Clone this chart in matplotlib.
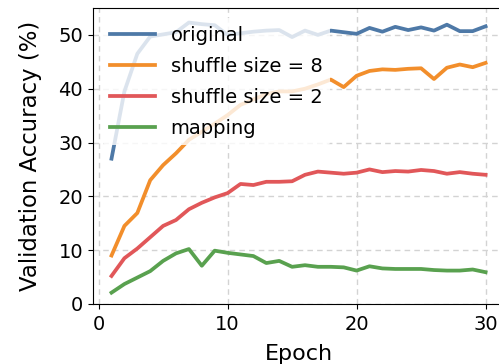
import matplotlib
matplotlib.use("Agg")
import matplotlib.pyplot as plt

epochs = list(range(1, 31))
original = [27.0, 39.5, 46.5, 49.7, 50.1, 50.5, 52.3, 52.0, 51.8, 50.0,
            50.3, 50.6, 50.8, 50.9, 49.6, 50.8, 50.0, 50.8, 50.5, 50.2,
            51.3, 50.6, 51.5, 50.9, 51.4, 50.8, 51.9, 50.7, 50.7, 51.6]
shuffle8 = [9.0, 14.5, 16.9, 23.0, 25.8, 28.0, 30.5, 32.0, 33.5, 35.1,
            37.0, 38.0, 39.0, 39.5, 39.5, 40.0, 40.8, 41.7, 40.3, 42.4,
            43.3, 43.6, 43.5, 43.7, 43.8, 41.8, 43.9, 44.5, 44.0, 44.8]
shuffle2 = [5.2, 8.5, 10.3, 12.4, 14.5, 15.6, 17.6, 18.8, 19.8, 20.6,
            22.3, 22.1, 22.7, 22.7, 22.8, 24.0, 24.6, 24.4, 24.2, 24.4,
            25.0, 24.5, 24.7, 24.6, 24.9, 24.7, 24.2, 24.5, 24.2, 24.0]
mapping = [2.1, 3.7, 4.9, 6.1, 8.0, 9.4, 10.2, 7.1, 9.9, 9.5,
           9.2, 8.9, 7.6, 8.0, 6.9, 7.2, 6.9, 6.9, 6.8, 6.2,
           7.0, 6.6, 6.5, 6.5, 6.5, 6.3, 6.2, 6.2, 6.4, 5.9]
labels = ["original", "shuffle size = 8", "shuffle size = 2", "mapping"]
colors = ["#4e79a7", "#f28e2b", "#e15759", "#59a14f"]

fig = plt.figure(figsize=(4.99, 3.64), dpi=100)
ax = fig.add_axes([0.186, 0.165, 0.8246, 0.813])
for ys, lab, c in zip([original, shuffle8, shuffle2, mapping], labels, colors):
    ax.plot(epochs, ys, color=c, lw=2.7, label=lab)

ax.set_ylim(0, 55)
ax.set_xlim(-0.45, 31.45)
ax.set_xticks([0, 10, 20, 30])
ax.set_yticks([0, 10, 20, 30, 40, 50])
ax.grid(True, linestyle=(0, (4, 3)), color="#d3d3d3", lw=1)
ax.tick_params(labelsize=14)
ax.tick_params(axis="x", pad=4.5)
ax.set_xlabel("Epoch", fontsize=16, labelpad=7)
ax.set_ylabel("Validation Accuracy (%)", fontsize=16.4, labelpad=12)
leg = ax.legend(loc="upper left", fontsize=14, frameon=True, framealpha=0.8,
                edgecolor="none", handlelength=2.3, labelspacing=0.62,
                borderaxespad=0.5)
fig.savefig("out.png", dpi=100)
